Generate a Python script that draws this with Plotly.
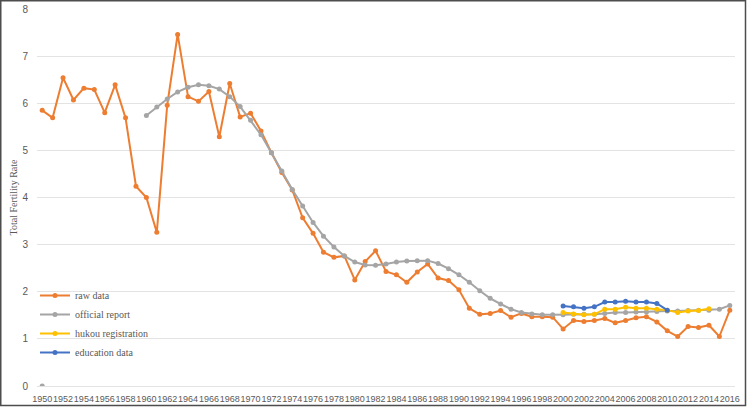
import plotly.graph_objects as go

years = list(range(1950, 2017))

raw_data = [5.85, 5.69, 6.54, 6.07, 6.32, 6.29, 5.80, 6.39, 5.69, 4.24,
            4.00, 3.26, 5.96, 7.46, 6.14, 6.04, 6.25, 5.29, 6.42, 5.71,
            5.79, 5.41, 4.95, 4.53, 4.16, 3.57, 3.24, 2.84, 2.73, 2.76,
            2.25, 2.64, 2.87, 2.43, 2.36, 2.20, 2.42, 2.59, 2.29, 2.24,
            2.04, 1.65, 1.52, 1.54, 1.60, 1.46, 1.54, 1.47, 1.47, 1.46,
            1.21, 1.39, 1.37, 1.39, 1.43, 1.34, 1.39, 1.45, 1.47, 1.36,
            1.17, 1.05, 1.26, 1.24, 1.29, 1.05, 1.61]

official_report = [0.00, None, None, None, None, None, None, None, None, None,
                   5.74, 5.92, 6.09, 6.24, 6.34, 6.39, 6.37, 6.30, 6.14, 5.93,
                   5.64, 5.33, 4.95, 4.56, 4.17, 3.82, 3.47, 3.18, 2.95, 2.76,
                   2.63, 2.57, 2.56, 2.59, 2.63, 2.65, 2.66, 2.66, 2.60, 2.49,
                   2.36, 2.20, 2.02, 1.86, 1.74, 1.63, 1.56, 1.53, 1.51, 1.51,
                   1.51, 1.52, 1.52, 1.52, 1.54, 1.56, 1.56, 1.57, 1.57, 1.58,
                   1.59, 1.59, 1.60, 1.61, 1.61, 1.63, 1.71]

hukou_years = list(range(2000, 2015))
hukou_registration = [1.56, 1.53, 1.51, 1.52, 1.63, 1.63, 1.67, 1.65, 1.65, 1.63,
                      1.61, 1.56, 1.59, 1.60, 1.64]

education_years = list(range(2000, 2011))
education_data = [1.70, 1.68, 1.65, 1.68, 1.78, 1.78, 1.80, 1.78, 1.78, 1.75, 1.61]

x_tick_years = list(range(1950, 2017, 2))
y_ticks = [0, 1, 2, 3, 4, 5, 6, 7, 8]

W, H = 748, 407
ML, MR, MT, MB = 37, 13, 9, 21
PW, PH = W - ML - MR, H - MT - MB

series = [
    ("raw data", years, raw_data, "#ED7D31"),
    ("official report", years, official_report, "#A5A5A5"),
    ("hukou registration", hukou_years, hukou_registration, "#FFC000"),
    ("education data", education_years, education_data, "#4472C4"),
]

fig = go.Figure()
for name, xs, ys, col in series:
    fig.add_trace(go.Scatter(
        x=xs, y=ys, name=name, mode="lines+markers",
        line=dict(color=col, width=2),
        marker=dict(color=col, size=5),
        connectgaps=False,
    ))

grid = "#E3E3E3"
fig.update_layout(
    width=W, height=H,
    margin=dict(l=ML, r=MR, t=MT, b=MB, autoexpand=False),
    paper_bgcolor="white", plot_bgcolor="white",
    showlegend=True,
    legend=dict(
        x=(35 - ML) / PW, y=(386 - 281) / PH, xanchor="left", yanchor="top",
        bgcolor="rgba(0,0,0,0)",
        font=dict(family="Liberation Serif", size=10, color="#595959"),
        tracegroupgap=0, itemwidth=30,
    ),
    xaxis=dict(
        range=[1949.5, 2016.5], tickmode="array", tickvals=x_tick_years,
        ticktext=[str(y) for y in x_tick_years], tickangle=0,
        showgrid=False, zeroline=False, showline=False, ticks="",
        ticklabelstandoff=6,
        tickfont=dict(family="Liberation Sans", size=9, color="#595959"),
        fixedrange=True,
    ),
    yaxis=dict(
        range=[0, 8], tickmode="array", tickvals=y_ticks,
        showgrid=True, gridcolor=grid, gridwidth=1,
        zeroline=True, zerolinecolor=grid, zerolinewidth=1,
        showline=False, ticks="", ticklabelstandoff=8,
        tickfont=dict(family="Liberation Sans", size=10, color="#595959"),
        fixedrange=True,
    ),
    annotations=[dict(
        text="Total Fertility Rate", xref="paper", yref="paper",
        x=(13 - ML) / PW, y=0.5, xanchor="center", yanchor="middle",
        textangle=-90, showarrow=False,
        font=dict(family="Liberation Serif", size=10, color="#595959"),
    )],
    shapes=[dict(
        type="rect", xref="paper", yref="paper", layer="above",
        x0=(0.75 - ML) / PW, x1=(745.5 - ML) / PW,
        y0=(386 - 405.5) / PH, y1=(386 - 0.75) / PH,
        line=dict(color="#4D4D4D", width=1.5),
    )],
)

fig.write_html("out.html", config={"displayModeBar": False},
               post_script="document.body.style.margin='0';")
